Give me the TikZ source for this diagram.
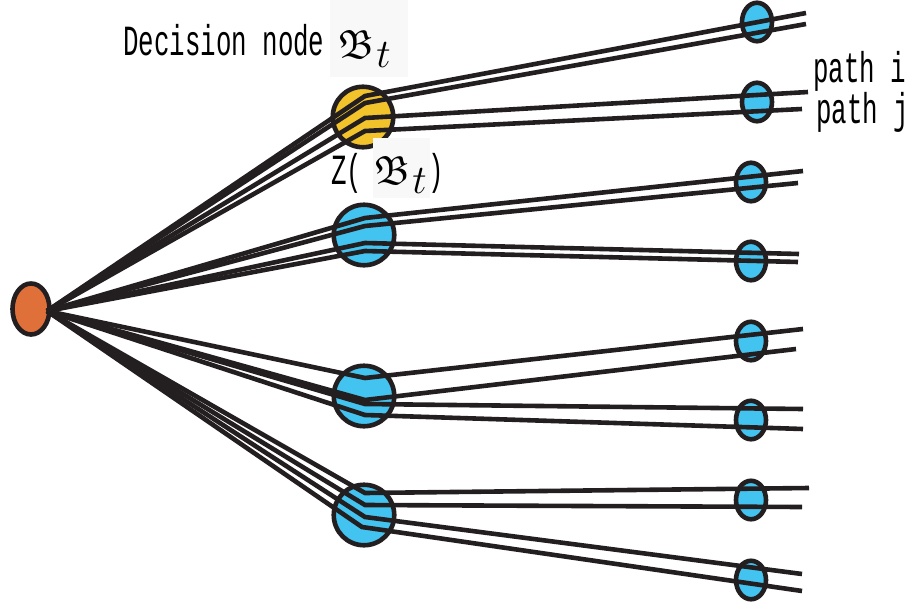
\documentclass[tikz,border=0pt]{standalone}
\usepackage{fontspec}
\setmonofont{Liberation Mono}
\usepackage{amssymb}
\usepackage{graphicx}
\usetikzlibrary{shapes.geometric}

\definecolor{ink}{HTML}{231F20}
\definecolor{rootc}{HTML}{E0703A}
\definecolor{goldc}{HTML}{F2C32B}
\definecolor{skyc}{HTML}{43C3EF}
\definecolor{pastebg}{HTML}{F8F8F8}

\newcommand\monotxt[1]{\scalebox{0.6}[1]{\fontsize{43}{46}\selectfont\ttfamily #1}}
\newcommand\frakBt{\scalebox{2.35}{\fontsize{17.28}{20}\selectfont$\mathfrak{B}\mkern1mu\raisebox{-4pt}{$t$}$}}

\tikzset{
  wire/.style={draw=ink, line width=4.6pt},
  rootnode/.style={ellipse, draw=ink, line width=4.6pt, fill=rootc, inner sep=0pt, minimum width=37pt, minimum height=51pt},
  midnode/.style={circle, draw=ink, line width=4.6pt, fill=skyc, inner sep=0pt, minimum size=60.5pt},
  leafnode/.style={ellipse, draw=ink, line width=4.6pt, fill=skyc, inner sep=0pt, minimum width=30pt, minimum height=38.5pt},
  lbl/.style={inner sep=0pt, anchor=base west},
  pastebox/.style={fill=pastebg, draw=none},
}

\begin{document}
\begin{tikzpicture}[x=1pt, y=-1pt]
\useasboundingbox (0,0) rectangle (913,605);

% paste background behind the first formula
\fill[pastebox] (330,0) rectangle (408,77);

% nodes
\node[rootnode] (root) at (31,309) {};
\node[midnode, fill=goldc] (m1) at (363,117) {};
\node[midnode] (m2) at (364,235) {};
\node[midnode] (m3) at (364,396) {};
\node[midnode] (m4) at (364,515) {};

\node[leafnode] (l1) at (757,22) {};
\node[leafnode] (l2) at (757,102) {};
\node[leafnode] (l3) at (751,182) {};
\node[leafnode] (l4) at (751,261) {};
\node[leafnode] (l5) at (751,341) {};
\node[leafnode] (l6) at (751,420) {};
\node[leafnode] (l7) at (751,500) {};
\node[leafnode] (l8) at (751,580) {};

% start of all paths
\coordinate (o) at (47,311);

% elbows inside the middle nodes and free ends beyond the leaves
\coordinate (e1a) at (365,96);  \coordinate (t1a) at (806,13);
\coordinate (e1b) at (365,103); \coordinate (t1b) at (806,24);
\coordinate (e1c) at (365,118); \coordinate (t1c) at (808,92);
\coordinate (e1d) at (365,131); \coordinate (t1d) at (802,109);

\coordinate (e2a) at (365,218); \coordinate (t2a) at (803,171);
\coordinate (e2b) at (365,226); \coordinate (t2b) at (798,183);
\coordinate (e2c) at (365,243); \coordinate (t2c) at (799,254);
\coordinate (e2d) at (365,251); \coordinate (t2d) at (798,262);

\coordinate (e3a) at (365,378); \coordinate (t3a) at (803,329);
\coordinate (e3b) at (365,400); \coordinate (t3b) at (796,349);
\coordinate (e3c) at (365,404); \coordinate (t3c) at (803,409);
\coordinate (e3d) at (365,415); \coordinate (t3d) at (803,429);

\coordinate (e4a) at (365,493); \coordinate (t4a) at (809,488);
\coordinate (e4b) at (365,505); \coordinate (t4b) at (802,507);
\coordinate (e4c) at (365,517); \coordinate (t4c) at (802,574);
\coordinate (e4d) at (362,527); \coordinate (t4d) at (802,591);

% paths
\foreach \m in {1,2,3,4}{
  \foreach \k in {a,b,c,d}{
    \draw[wire] (o) -- (e\m\k) -- (t\m\k);
  }
}

% paste background behind the second formula (covers part of the gold node)
\fill[pastebox] (373,138) rectangle (430,198);

% labels
\node[lbl] (dlabel) at (123,55) {\monotxt{Decision node}};
\node[lbl] (dform) at (338,58) {\frakBt};
\node[lbl] (zopen) at (331,184) {\monotxt{Z(}};
\node[lbl] (zform) at (374,184) {\frakBt};
\node[lbl] (zclose) at (428,184) {\monotxt{)}};
\node[lbl] (pathi) at (813,82) {\monotxt{path i}};
\node[lbl] (pathj) at (816,123) {\monotxt{path j}};
\end{tikzpicture}
\end{document}
